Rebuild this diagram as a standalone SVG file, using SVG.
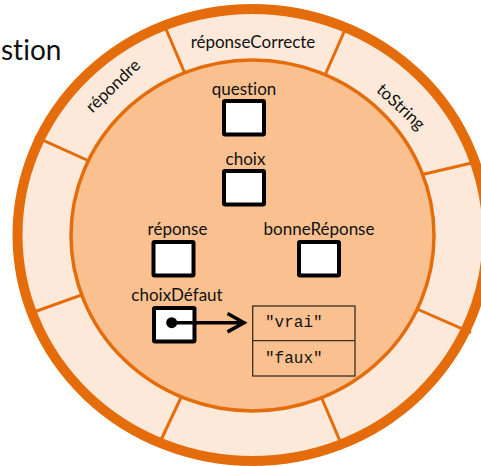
<svg xmlns="http://www.w3.org/2000/svg" width="481" height="466" viewBox="0 0 481 466">
<style>
.lbl{font-family:Lato,"Liberation Sans",sans-serif;font-size:17px;fill:#111;text-anchor:middle;font-variant-ligatures:none}
.big{font-family:Lato,"Liberation Sans",sans-serif;font-size:28px;fill:#111;font-variant-ligatures:none}
.mono{font-family:"Liberation Mono",monospace;font-size:16px;fill:#111}
.box{fill:#fff;stroke:#000;stroke-width:4}
.div{stroke:#E46C0A;stroke-width:3;fill:none}
.arr{fill:none;stroke:#3a2e26;stroke-width:1.3}
</style>
<defs>
<marker id="head" markerUnits="userSpaceOnUse" markerWidth="20" markerHeight="22" refX="17" refY="10" orient="auto" overflow="visible">
<path d="M0.5,0.8 L17,10 L0.5,19.2" fill="none" stroke="#000" stroke-width="3.5" stroke-linejoin="miter"/>
</marker>
<marker id="dot" markerUnits="userSpaceOnUse" markerWidth="12" markerHeight="12" refX="6" refY="6" overflow="visible">
<circle cx="6" cy="6" r="5.5" fill="#000"/>
</marker>
</defs>
<text class="big" x="1" y="60">stion</text>
<g id="ring">
<ellipse cx="252.5" cy="235" rx="235" ry="226" fill="#FDE9D9" stroke="#E46C0A" stroke-width="10"/>
<line class="div" x1="186" y1="76" x2="163" y2="22"/>
<line class="div" x1="322" y1="82" x2="344" y2="32"/>
<line class="div" x1="89" y1="161" x2="35" y2="136.7"/>
<line class="div" x1="88" y1="292.7" x2="34" y2="312"/>
<line class="div" x1="418" y1="175.5" x2="476" y2="162"/>
<line class="div" x1="417" y1="309" x2="471" y2="332.7"/>
<line class="div" x1="185" y1="389" x2="161" y2="440"/>
<line class="div" x1="320" y1="394" x2="342.5" y2="447"/>
<ellipse cx="252.5" cy="235.5" rx="181.5" ry="175.5" fill="#FAC090" stroke="#E46C0A" stroke-width="3.5"/>
</g>
<g id="reponseCorrecte"><text class="lbl" x="253" y="47.5">réponseCorrecte</text></g>
<g id="repondre"><text class="lbl" transform="translate(117,90) rotate(-44)">répondre</text></g>
<g id="toString"><text class="lbl" transform="translate(397,111) rotate(43)">toString</text></g>
<g id="question"><text class="lbl" x="244" y="95">question</text><rect class="box" x="224" y="101" width="40" height="33.5" rx="1"/></g>
<g id="choix"><text class="lbl" x="245.5" y="165">choix</text><rect class="box" x="224" y="171" width="40" height="33.5" rx="1"/></g>
<g id="reponse"><text class="lbl" x="177.5" y="235">réponse</text><rect class="box" x="153.5" y="242" width="40" height="33.5" rx="1"/></g>
<g id="bonneReponse"><text class="lbl" x="319" y="235">bonneRéponse</text><rect class="box" x="299" y="242" width="40" height="33.5" rx="1"/></g>
<g id="choixDefaut"><text class="lbl" x="177" y="300.5">choixDéfaut</text><rect class="box" x="154" y="308" width="40.5" height="33.5" rx="1"/></g>
<g id="tableau">
<rect class="arr" x="252.7" y="306" width="102.3" height="70"/>
<line class="arr" x1="252.7" y1="340.7" x2="355" y2="340.7"/>
<text class="mono" x="265" y="326.7">"vrai"</text>
<text class="mono" x="265" y="363.3">"faux"</text>
</g>
<g id="connectors">
<line x1="171.7" y1="322.7" x2="244" y2="322.7" stroke="#000" stroke-width="3.5" marker-start="url(#dot)" marker-end="url(#head)"/>
</g>
</svg>
